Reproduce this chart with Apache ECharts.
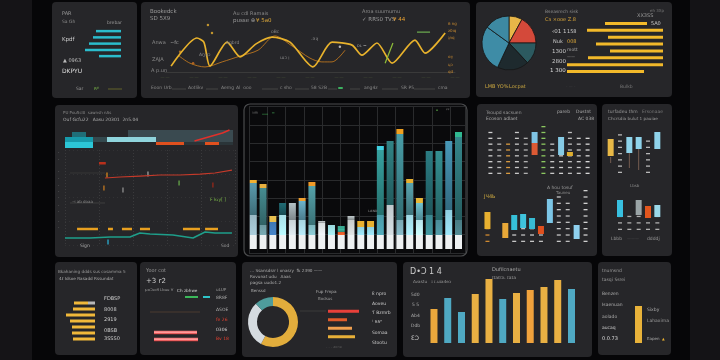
<!DOCTYPE html>
<html>
<head>
<meta charset="utf-8">
<script src="https://cdn.jsdelivr.net/npm/echarts@6.0.0/dist/echarts.min.js"></script>
<style>
html,body{margin:0;padding:0;background:#060608;overflow:hidden;}
#c{width:720px;height:360px;}
</style>
</head>
<body>
<div id="c"></div>
<script>
// ================= DATA =================
// A: top-left cyan bars
const aCats = ['a1','a2','a3','a4','a5'];
const aVals = [25, 28, 32, 36, 22];

// B: top line chart (x: day index 0-100, y: level)
const bMainX = [2.1,11.0,13.4,15.5,21.4,25.9,31.4,36.9,43.1,51.0,57.6,64.5,67.9,73.1,78.3,86.2,89.7,96.6];
const bMainY = [14,81,71,14,71,36,67,83,71,12,71,64,40,69,21,76,45,93];
const bSecX  = [4.5,8.6,13.8,19.7,25.9,32.1,37.9,43.8,50.0,54.1,57.6,62.1];
const bSecY  = [40,21,12,24,38,52,86,62,33,24,24,52];
const bGrnX  = [75.9,78.6];
const bGrnY  = [21,69];
const bGrn2X = [86.9,91.4];
const bGrn2Y = [95,95];
const bDotX  = [14.8,16.2,5.2,9.7,60.3];
const bDotY  = [112,93,48,21,60];

// C: pie + bars
const cPieNames = ['Yellow','Red','Slate','Shade','Teal','Teal B'];
const cPieVals  = [8,17,13,19,28,15];
const cCats = ['c1','c2','c3','c4','c5','c6','c7','c8'];
const cOff  = [16,0,0,0,0,0,0,19];
const cVals = [42,76,55,67,53,75,96,77];

// D: mid-left panel
const dCats = ['d1','d2','d3','d4','d5','d6','d7','d8','d9','d10','d11','d12','d13','d14','d15','d16','d17','d18','d19','d20','d21','d22','d23','d24'];
const dOff = [0,0,0,0,6,6,6,6,6,6,6,6,6,3,3,3,3,3,3,3,3,3,3,3];
const dS1  = [6,6,6,6,0,0,5,5,5,5,5,5,5,3,3,3,3,3,3,3,3,3,3,3];
const dS2  = [5,5,5,5,5,5,0,0,0,7,7,7,7,12,12,12,12,12,12,12,12,12,12,12];
const dS3  = [0,5,5,0,0,0,0,0,0,0,0,0,0,0,0,0,0,0,0,0,0,0,0,0];
const dRed = [null,null,null,null,null,null,null,null,null,null,null,null,null,null,null,null,null,null,7,9,11,13,15,18];
const dRedX = [23.5,32.4,44.1,55.9,67.6,79.4,88.2,98.2];
const dRedY = [70.5,71.6,72.6,73.7,73.7,74.7,75.8,78.9];
const dRed2X = [20,24];
const dRed2Y = [86,86];
const dTealX = [0,14.7,26.5,38.2,44.1,50,63.5,75.3,82.4,88.2,98.2];
const dTealY = [7.4,7.4,8.4,8.4,12.6,11.6,10.5,7.4,13.7,12.6,12.6];
const dOrgSeg = [[7.1,19.4],[25.3,28.2],[33.5,39.4],[44.1,50],[69.4,79.4],[82.4,90]];
const dOrgY = 16.8;
const dMarkX = [24.7,22.9,48.8,34.1,67.1,87,25.3];
const dMarkY = [73.7,60,74.7,57.9,65.3,63.2,3.2];

// E: central stacked bars
const eCats = ['e1','e2','e3','e4','e5','e6','e7','e8','e9','e10','e11','e12','e13','e14','e15','e16','e17','e18','e19','e20','e21','e22'];
const eBaseH = 14;
const eTotal = [69,65,33,46,46,51,67,28,24,23,33,28,28,103,108,120,70,51,98,98,108,117];
const eCap   = [3,4,6,0,0,3,4,0,0,3,0,6,6,4,0,5,4,5,0,0,0,5];
const eLow   = [20,10,13,20,15,15,10,12,10,3,15,8,8,20,30,15,20,15,20,15,25,15];

// F: mid-right panel A
const fCats = ['f1','f2','f3','f4','f5','f6','f7','f8','f9','f10','f11','f12'];
const fTopDash = [41,32,27,41,36,0,47,27,19,42,32,34];
const fTopOff  = [0,0,0,0,0,19,0,0,19,18,0,0];
const fTopS1   = [0,0,0,0,0,12,0,0,18,4,0,0];
const fTopS2   = [0,0,0,0,0,11,0,0,0,0,0,0];
const fBotDash = [9,0,0,12,14,11,8,0,42,39,0,47];
const fBotOff  = [13,0,4,12,14,13,8,19,0,0,3,0];
const fBotS    = [17,0,15,15,14,11,8,24,0,0,14,0];

// G: mid-right panel B
const gCats = ['g1','g2','g3','g4','g5','g6'];
const gTopOff = [17,0,20,24,0,24];
const gTopS   = [17,0,16,12,0,17];
const gTopDash = [0,33,0,0,30,0];
const gWhCat = [0,2,3];
const gWhMid = [13,12.5,13.5];
const gWhLen = [6,15,21];
const gBotOff = [0,13,0,15,12,13];
const gBotS   = [0,17,0,15,12,12];
const gBotDash = [0,12,14,10,11,11];

// H: bottom-left yellow bars
const hCats = ['h1','h2','h3','h4','h5','h6','h7'];
const hGray = [7,0,0,0,0,0,0];
const hVals = [14,22,29,25,23,23,22];

// I: red bars
const iCats = ['i1','i2'];
const iVals = [43,44];
const iLegGap1 = [31], iLegGreen = [13], iLegGap2 = [5], iLegCyan = [7];

// J: donut + bars
const jNames = ['Yellow','Silver','Teal'];
const jVals = [58,30,12];
const jCats = ['j1','j2','j3','j4'];
const jBars = [31,19,24,27];

// K: vertical bars
const kCats = ['k1','k2','k3','k4','k5','k6','k7','k8','k9','k10','k11'];
const kVals = [34,45,31,49,64,44,50,53,56,63,54];

// L: single bar
const lCats = ['l1'];
const lVals = [37];

// ================= STYLES =================
const eLowCol = ['#9ab8c4','#6d9aa2','#3f78b4','#a8e0e8','#c8d2d6','#a6d4e0','#7fb8c0','#d8dcde','#9ad8dc','#e05a28','#c8cccc','#8fd0e0','#8fd0e0','#4a9aa8','#c0c8cc','#7aa8b4','#a0d8e4','#b8e4ec','#3a8890','#4a8c98','#8ecfe0','#4a7c84'];
const eUpCol  = ['#4e8796','#3d7a7e','#3f78b4','#1d5e66','#9ca8ac','#5e9bb0','#4a8d94','#b0b4b6','#8fd0d4','#3aa890','#a8b0b2','#e0c070','#e0c070','#2f8c8a','#2b7274','#3f8890','#4d8f98','#62aab6','#256c72','#2d7c7e','#3f84a0','#2e7478'];
const eCapCol = ['#f0b030','#e8b040','#e8c050','#1d5e66','#999999','#f0a030','#f09a28','#cccccc','#9ad8dc','#3aa890','#cccccc','#e8b030','#e8b030','#40d0e0','#2b7274','#f0a020','#e8b030','#e8b838','#2a6e72','#2d7c7e','#3f84a0','#30b890'];
const dS1Col = ['#2cc6d6','#2cc6d6','#2cc6d6','#2cc6d6','#000','#000','#8fd4dc','#8fd4dc','#8fd4dc','#8fd4dc','#8fd4dc','#8fd4dc','#8fd4dc','#e0501e','#e0501e','#e0501e','#e0501e','#2a3438','#2a3438','#2a3438','#e0501e','#e0501e','#2a3438','#2a3438'];
const dS2Col = ['#179aaa','#179aaa','#179aaa','#179aaa','#34494e','#34494e','#3a4a50','#3a4a50','#3a4a50','#3a4a50','#3a4a50','#3a4a50','#3a4a50','#3a4a50','#3a4a50','#3a4a50','#3a4a50','#3a4a50','#3a4a50','#3a4a50','#3a4a50','#3a4a50','#3a4a50','#3a4a50'];
const fTopDashCol = ['#cfcfcf','#b8b8b8','#d89a40','#c8c8c8','#b0b0b0','#cccccc','#8cc860','#c8c8c8','#d0d0d0','#c0c0c0','#c8c8c8','#d8d8d8'];
const fTopS1Col = ['#000','#000','#000','#000','#000','#dc5a34','#000','#000','#86cbe6','#e0b030','#000','#000'];
const fTopS2Col = ['#000','#000','#000','#000','#000','#7fc4e4','#000','#000','#000','#000','#000','#000'];
const fBotCol = ['#e8b030','#000','#e8a838','#36c0d8','#3fc3dc','#38bcd4','#e0501e','#7cc6e6','#000','#000','#8fd0ee','#000'];
const fBotDashCol = ['#d08a30','#bbb','#bbb','#c8c8c8','#c0c0c0','#c8c8c8','#c0c0c0','#bbb','#c8c8c8','#bdbdbd','#bbb','#d0d0d0'];
const gTopCol = ['#e8b846','#000','#8fd3ea','#8fd3ea','#000','#8fd3ea'];
const gBotCol = ['#000','#38c0e0','#000','#9aa4a6','#e2561e','#9ad8e8'];
const jBarCol = ['#e8403a','#e05a2a','#f0a050','#e8b038'];
const kCol = ['#eaa83c','#4fa9c3','#4fa9c3','#e9b043','#e9b043','#4fa9c3','#e9b043','#f0a23c','#e9b043','#e9b043','#4fa9c3'];

// ================= BUILD =================
const grids = [], xAxes = [], yAxes = [], series = [];
function addGrid(g, xa, ya) {
  grids.push(Object.assign({containLabel:false}, g));
  const i = grids.length - 1;
  xAxes.push(Object.assign({gridIndex:i, show:false}, xa));
  yAxes.push(Object.assign({gridIndex:i, show:false}, ya));
  return i;
}
function colored(vals, cols) { return vals.map((v,i) => ({value:v, itemStyle:{color:cols[i]}})); }
function shade(hex, f) {
  const n = parseInt(hex.slice(1), 16);
  const c = [(n>>16)&255, (n>>8)&255, n&255].map(v => Math.max(0, Math.min(255, Math.round(v*f))));
  return 'rgb(' + c.join(',') + ')';
}
function graded(vals, cols, fTop, fBot) {
  return vals.map((v,i) => ({value:v, itemStyle:{color:new echarts.graphic.LinearGradient(0,0,0,1,[
    {offset:0, color:shade(cols[i], fTop)}, {offset:1, color:shade(cols[i], fBot)}])}}));
}
function zip(xs, ys) { return xs.map((x,i) => [x, ys[i]]); }
function bar(gi, data, opt) { return Object.assign({type:'bar', xAxisIndex:gi, yAxisIndex:gi, data:data, silent:true}, opt); }
function line(gi, data, opt) { return Object.assign({type:'line', xAxisIndex:gi, yAxisIndex:gi, data:data, symbol:'none', silent:true}, opt); }
const TR = {color:'rgba(0,0,0,0)'};

// A
const gA = addGrid({left:80, top:28, width:41, height:31.25},
  {type:'value', inverse:true, min:0, max:41}, {type:'category', data:aCats, inverse:true});
series.push(bar(gA, aVals, {barWidth:2.5, itemStyle:{color:'#2bbccc'}}));

// B
const gB = addGrid({left:165, top:19.5, width:290, height:52.5},
  {type:'value', min:0, max:100, interval:10, show:true, axisLine:{show:true, lineStyle:{color:'#3a3a3a'}}, axisTick:{show:false},
   splitLine:{show:false}, axisLabel:{show:true, color:'#4d5a3c', fontSize:4, margin:3, formatter:function(){return '— —';}}},
  {type:'value', min:0, max:125});
series.push(line(gB, zip(bSecX, bSecY), {smooth:0.3, lineStyle:{color:'#c47a1e', width:1, opacity:0.85}}));
series.push(line(gB, zip(bMainX, bMainY), {smooth:0.25, lineStyle:{color:'#e8b22c', width:1.7}}));
series.push(line(gB, zip(bGrnX, bGrnY), {lineStyle:{color:'#8fbf3a', width:1.2}}));
series.push(line(gB, zip(bGrn2X, bGrn2Y), {lineStyle:{color:'#6aa84f', width:1.2}}));
series.push({type:'scatter', xAxisIndex:gB, yAxisIndex:gB, silent:true, symbolSize:2.5,
  data: zip(bDotX, bDotY).map((p,i)=>({value:p, itemStyle:{color:['#e8b030','#e8b030','#d08020','#d07020','#dddddd'][i]}}))});

// C
series.push({type:'pie', silent:true, center:[509,43], radius:27, startAngle:90, clockwise:true,
  label:{show:false}, labelLine:{show:false},
  itemStyle:{borderColor:'#151515', borderWidth:0.8},
  data: cPieNames.map((n,i)=>({name:n, value:cPieVals[i], itemStyle:{color:['#e8b648','#d4493a','#2c5a60','#1e2a2e','#3e8ca6','#3d89a2'][i]}}))});
const gC = addGrid({left:560, top:20, width:103, height:55},
  {type:'value', inverse:true, min:0, max:103}, {type:'category', data:cCats, inverse:true});
series.push(bar(gC, cOff, {stack:'c', barWidth:3, itemStyle:TR}));
series.push(bar(gC, cVals, {stack:'c', barWidth:3, itemStyle:{color:'#f2b92a'}}));

// D strip
const gD1 = addGrid({left:65, top:129, width:168, height:19},
  {type:'category', data:dCats}, {type:'value', min:0, max:19});
series.push(bar(gD1, dOff, {stack:'d', barCategoryGap:'0%', itemStyle:TR}));
series.push(bar(gD1, colored(dS1, dS1Col), {stack:'d', barCategoryGap:'0%'}));
series.push(bar(gD1, colored(dS2, dS2Col), {stack:'d', barCategoryGap:'0%'}));
series.push(bar(gD1, dS3, {stack:'d', barCategoryGap:'0%', itemStyle:{color:'#1f6e78'}}));
series.push(line(gD1, dRed, {lineStyle:{color:'#e0302a', width:1.5}, z:5}));
// D main
const gD2 = addGrid({left:65, top:150, width:170, height:95},
  {type:'value', min:0, max:100, interval:20, show:true, axisLine:{show:false}, axisTick:{show:false}, axisLabel:{show:false},
   splitLine:{show:true, lineStyle:{color:'#3a3a3c', type:[1,2]}}},
  {type:'value', min:0, max:100, interval:25, show:true, axisLine:{show:false}, axisTick:{show:false}, axisLabel:{show:false},
   splitLine:{show:true, lineStyle:{color:'#323234', type:[1,3]}}});
series.push(line(gD2, zip(dRedX, dRedY), {lineStyle:{color:'#c63a2a', width:1.2}}));
series.push(line(gD2, zip(dRed2X, dRed2Y), {lineStyle:{color:'#b8301c', width:2.5}}));
series.push(line(gD2, zip(dTealX, dTealY), {lineStyle:{color:'#1e9e8a', width:1.5}}));
dOrgSeg.forEach(s => series.push(line(gD2, [[s[0],dOrgY],[s[1],dOrgY]], {lineStyle:{color:'#e8a020', width:2.5}})));
series.push({type:'scatter', xAxisIndex:gD2, yAxisIndex:gD2, silent:true, symbol:'rect', symbolSize:[1.5,5],
  data: zip(dMarkX, dMarkY).map((p,i)=>({value:p, itemStyle:{color:['#e8901c','#d08020','#aaaaaa','#999999','#6ab04c','#a02818','#2ab8e0'][i]}}))});

// E
const gEbg = addGrid({left:249, top:106.6, width:216, height:146.4},
  {type:'value', min:0, max:11.8, interval:1, show:true, axisLine:{show:false}, axisTick:{show:false}, axisLabel:{show:false},
   splitLine:{show:true, lineStyle:{color:'#2a2b2d', width:1}}},
  {type:'value', min:0, max:8, interval:1, show:true, axisLine:{show:false}, axisTick:{show:false}, axisLabel:{show:false},
   splitLine:{show:true, lineStyle:{color:'#2a2b2d', width:1}}});
const gE = addGrid({left:248.4, top:109, width:215, height:140},
  {type:'category', data:eCats}, {type:'value', min:0, max:140});
const eUp = eTotal.map((t,i) => t - eBaseH - eCap[i] - eLow[i]);
series.push(bar(gE, eCats.map(()=>eBaseH), {stack:'e', barWidth:7, itemStyle:{color:'#eef1f2'}}));
series.push(bar(gE, graded(eLow, eLowCol, 1.0, 1.12), {stack:'e', barWidth:7}));
series.push(bar(gE, graded(eUp, eUpCol, 1.15, 0.8), {stack:'e', barWidth:7}));
series.push(bar(gE, colored(eCap, eCapCol), {stack:'e', barWidth:7}));

// F top
const gF1 = addGrid({left:486, top:126, width:106, height:48}, {type:'category', data:fCats}, {type:'value', min:0, max:48});
series.push({type:'pictorialBar', xAxisIndex:gF1, yAxisIndex:gF1, silent:true, data:colored(fTopDash, fTopDashCol),
  symbol:'rect', symbolSize:[4,1.3], symbolRepeat:true, symbolMargin:2.6, barWidth:5, z:2});
series.push(bar(gF1, fTopOff, {stack:'f1', barWidth:6, itemStyle:TR, z:3}));
series.push(bar(gF1, colored(fTopS1, fTopS1Col), {stack:'f1', barWidth:6, z:3}));
series.push(bar(gF1, colored(fTopS2, fTopS2Col), {stack:'f1', barWidth:6, z:3}));
// F bottom
const gF2 = addGrid({left:483, top:190, width:107, height:52}, {type:'category', data:fCats}, {type:'value', min:0, max:52});
series.push({type:'pictorialBar', xAxisIndex:gF2, yAxisIndex:gF2, silent:true, data:colored(fBotDash, fBotDashCol),
  symbol:'rect', symbolSize:[4,1.3], symbolRepeat:true, symbolMargin:2.6, barWidth:5, z:2});
series.push(bar(gF2, fBotOff, {stack:'f2', barWidth:6, itemStyle:TR, z:3}));
series.push(bar(gF2, colored(fBotS, fBotCol), {stack:'f2', barWidth:6, z:3}));

// G top
const gG1 = addGrid({left:606, top:128, width:56, height:45}, {type:'category', data:gCats}, {type:'value', min:0, max:45});
series.push({type:'pictorialBar', xAxisIndex:gG1, yAxisIndex:gG1, silent:true, data:gTopDash,
  itemStyle:{color:'#b8b8b8'}, symbol:'rect', symbolSize:[4,1.3], symbolRepeat:true, symbolMargin:2.6, barWidth:5, z:2});
series.push(bar(gG1, gTopOff, {stack:'g1', barWidth:6, itemStyle:TR, z:3}));
series.push(bar(gG1, colored(gTopS, gTopCol), {stack:'g1', barWidth:6, z:3}));
series.push({type:'scatter', xAxisIndex:gG1, yAxisIndex:gG1, silent:true, symbol:'rect',
  data: gWhCat.map((c,i)=>({value:[c, gWhMid[i]], symbolSize:[1, gWhLen[i]]})), itemStyle:{color:'#8a6a5a'}});
// G bottom
const gG2 = addGrid({left:606, top:190, width:56, height:40}, {type:'category', data:gCats}, {type:'value', min:0, max:40});
series.push({type:'pictorialBar', xAxisIndex:gG2, yAxisIndex:gG2, silent:true, data:gBotDash,
  itemStyle:{color:'#b0b0b0'}, symbol:'rect', symbolSize:[4,1.3], symbolRepeat:true, symbolMargin:2.6, barWidth:5, z:2});
series.push(bar(gG2, gBotOff, {stack:'g2', barWidth:6, itemStyle:TR, z:3}));
series.push(bar(gG2, colored(gBotS, gBotCol), {stack:'g2', barWidth:6, z:3}));

// H
const gH = addGrid({left:62, top:300, width:33, height:42},
  {type:'value', inverse:true, min:0, max:33}, {type:'category', data:hCats, inverse:true});
series.push(bar(gH, hGray, {stack:'h', barWidth:3, itemStyle:{color:'#b8b8b8'}}));
series.push(bar(gH, hVals, {stack:'h', barWidth:3, itemStyle:{color:'#f0b83a'}}));

// I
const gI = addGrid({left:154, top:329, width:46, height:14},
  {type:'value', min:0, max:46}, {type:'category', data:iCats, inverse:true});
series.push(bar(gI, iVals, {barWidth:3.5, itemStyle:{color:new echarts.graphic.LinearGradient(0,0,0,1,[{offset:0,color:'#f07070'},{offset:0.5,color:'#ff9a9a'},{offset:1,color:'#d83030'}])}}));
const gI2 = addGrid({left:154, top:295, width:56, height:4},
  {type:'value', min:0, max:56}, {type:'category', data:['leg']});
series.push(bar(gI2, iLegGap1, {stack:'il', barWidth:2, itemStyle:TR}));
series.push(bar(gI2, iLegGreen, {stack:'il', barWidth:2, itemStyle:{color:'#3bb85a'}}));
series.push(bar(gI2, iLegGap2, {stack:'il', barWidth:2, itemStyle:TR}));
series.push(bar(gI2, iLegCyan, {stack:'il', barWidth:2, itemStyle:{color:'#2ec4c8'}}));

// J
series.push({type:'pie', silent:true, center:[273,322], radius:[16,25], startAngle:90, clockwise:true,
  label:{show:false}, labelLine:{show:false},
  data: jNames.map((n,i)=>({name:n, value:jVals[i], itemStyle:{color:['#e2ad3c','#d5dbe0','#4e9c9c'][i]}}))});
const gJ = addGrid({left:328, top:307, width:35, height:34},
  {type:'value', min:0, max:35}, {type:'category', data:jCats, inverse:true});
series.push(bar(gJ, colored(jBars, jBarCol), {barWidth:3}));

// K
const gK = addGrid({left:427.1, top:273, width:151.25, height:70},
  {type:'category', data:kCats}, {type:'value', min:0, max:70});
series.push(bar(gK, colored(kVals, kCol), {barWidth:7}));

// L
const gL = addGrid({left:635, top:300, width:7, height:43},
  {type:'category', data:lCats}, {type:'value', min:0, max:43});
series.push(bar(gL, lVals, {barWidth:7, itemStyle:{color:'#e8b23a'}}));

// ================= GRAPHIC (panels + text) =================
const G = [];
function R(x,y,w,h,fill,stroke,r) { G.push({type:'rect', z:0, silent:true, shape:{x:x,y:y,width:w,height:h,r:r==null?4:r}, style:{fill:fill, stroke:stroke||null, lineWidth:stroke?1.2:0}}); }
function L(x1,y1,x2,y2,c,w) { G.push({type:'line', z:1, silent:true, shape:{x1:x1,y1:y1,x2:x2,y2:y2}, style:{stroke:c, lineWidth:w||1}}); }
function T(x,y,t,c,s,wt) { G.push({type:'text', z:100, silent:true, x:x, y:y, style:{text:t, fill:c||'#8c8c8c', font:(wt||'normal')+' '+(s||5)+'px "DejaVu Sans"', verticalAlign:'middle'}}); }

R(0,0,32,360,'#151417',null,0);
R(690,0,30,360,'#141316',null,0);
const PF = '#262629';
R(52,2,85,96,PF); R(141,2,329,96,PF); R(476,2,196,95,PF);
R(55,105,183,152,PF); R(244,104,223,152,'#0a0a0c','#4a4b4d',6);
R(477,104,120,152,PF); R(602,104,70,152,PF);
R(55,262,82,93,PF); R(140,262,96,93,PF); R(242,262,155,95,PF); R(403,262,189,95,PF); R(598,262,73,93,PF);

// A texts
T(62,14,'PAR','#9a9a9a',5); T(62,22,'Sa Gh','#888',4.5); T(107,23,'brebar','#999',4.5);
T(62,40,'Kpdf','#cccccc',5.5); T(63,61,'▲ 0963','#bbbbbb',5); T(62,71,'DKPYU','#dddddd',6);
T(76,89,'Sar','#999',4.5); T(94,89,'ʀᵖ','#7ab648',5); L(108,89,122,89,'#5a5a2a',1.2);

// B texts
T(150,12,'Bookedck','#9a9a9a',5.5); T(150,19,'SD 5X9','#9a9a9a',5.5);
T(233,14,'Au cdl Ramais','#8a8a8a',5); T(233,21,'pusse ⊕','#9a9a9a',5.5); T(256,21,'¥ 5a0','#d9a63a',5.5);
T(362,12,'Aroa suumumu','#8a8a8a',5); T(362,20,'✓ RRS0 TVS','#9a9a9a',5.5); T(393,20,'¥ 44','#e8a030',5.5);
T(152,43,'Anwa','#8a8a8a',5); T(152,60,'ZAJA','#8a8a8a',5); T(151,71,'A p.un','#8a8a8a',5);
T(170,43,'~fc','#aaa',5); T(199,55,'Aŋʞɔ','#888',4.5); T(226,43,'Aqbrd','#888',4.5);
T(280,58,'ɯɔ ᴉ','#888',4.5); T(271,32,'oBc','#888',4.5); T(311,39,'.ǝʞ','#888',4.5); T(357,46,'ᴅʟ ━','#999',4.5);
T(448,24,'6 ng','#c88a30',4); T(448,31,'ƨ0ıq','#c88a30',4); T(448,38,'ʇnq','#c88a30',4);
T(448,57,'oıɟ','#c88a30',4); T(448,65,'ɥɔ','#c88a30',4); T(448,72,'qd','#c88a30',4);
T(151,88,'Eoon Urb','#888',4.5); T(188,88,'Aotlikv','#888',4.5); T(221,88,'Aemg','#888',4.5);
T(236,88,'Al  ooo','#888',4.5); T(280,88,'c sho','#888',4.5); T(311,88,'58 S2B','#888',4.5);
T(364,88,'ang4z','#888',4.5); T(401,88,'SR P5','#888',4.5); T(438,88,'cma','#888',4.5);
L(172,89,186,89,'#444',1); L(206,89,218,89,'#444',1); L(262,89,278,89,'#444',1); L(295,89,309,89,'#444',1);
L(328,89,337,89,'#444',1); L(350,89,360,89,'#444',1); L(382,89,398,89,'#444',1); L(414,89,435,89,'#444',1);
R(338,87,5,2,'#3cb060',null,1);

// C texts
T(545,12,'Bseasrech sisk','#8a8a8a',4.5); T(545,20,'Cɜ ×ooe Z.8','#d9a63a',5);
T(637,16,'XX3SS','#999',5); T(650,11,'eh 3Xp','#777',4); T(651,24,'5A0','#cccccc',5);
T(552,32,'‹01 1','#cccccc',5.5); T(567,32,'158','#cccccc',5);
T(553,42,'Nuk','#cccccc',5); T(567,42,'008','#d9a63a',5);
T(552,52,'1300','#cccccc',5.5); T(567,50,'mott','#aaa',4.5); T(567,57,'—— ','#aaa',4);
T(552,62,'2800','#cccccc',5.5); T(550,71,'1 300','#dddddd',5.5);
T(485,87,'LMB','#c9a640',5); T(497,87,'YO%','#c9a640',5); T(509,87,'Locpat','#c9a640',5);
T(566,87,'- — -','#444',4); T(620,87,'Bulkb','#777',4.5);

// D texts
T(63,113,'PU Pou5cl0  sawnsh nAs','#888',4); T(63,120,'Ouf Gcfu22   Aasu 20301  2n5.04','#aaa',4.5);
T(72,202,'⊣ ab doaa','#888',4); T(210,200,'F k₂y[ ]','#7ab648',4.5);
T(80,246,'Sign','#aaa',4.5); T(221,246,'Sod','#999',4.5);
[153,160,172,179,186,192,198,206,212,222,228].forEach(y => T(58,y,'·','#888',5));
L(70,203,105,203,'#444',0.8); L(70,173,105,173,'#3a3a3a',0.8);

// E texts
T(252,114,'ᵃᵈᵇ','#777',5); T(262,114,'ᵤᵤₐ','#3a9a4a',5); T(272,113,'═','#3a8a4a',4);
T(436,110,'▪','#4a8a3a',3); T(446,110,'ᵖᵖ','#888',4); T(368,211,'ʟᴀɴᴅ','#888',4);

// F texts
T(486,113,'Tsoupd sacsuen','#999',4.5); T(486,119,'Ecoson adlaet','#aaa',4.5);
T(557,112,'pareb','#aaa',4.5); T(576,112,'Dustnt','#aaa',4.5); T(578,119,'AC 038','#aaa',4.5);
T(484,197,'ЈЧ4Ь','#c9a640',5); T(547,188,'A hou tosuf','#999',4.5); T(556,193,'Tauneu','#888',4);

// G texts
T(608,112,'turfadeu thm','#999',4.5); T(642,112,'Ersonaae','#777',4.5);
T(608,119,'Chcrsdia bulut 1 pauiae','#999',4.2); T(630,186,'Lbsb','#888',4);
T(611,239,'Lbbb','#999',4.5); T(627,239,'———','#555',4); T(647,239,'ddddj','#999',4.5);

// H texts
T(58,272,'Bkahaning ddds sus cosamma 5','#999',4.2); T(59,279,'4ℓ Idsoe Rasadd Rssundat','#aaa',4.2);
T(104,299,'FDBSP','#cccccc',5); T(104,310,'8008','#cccccc',5); T(104,320,'2919','#cccccc',5);
T(104,331,'0BSB','#cccccc',5); T(104,339,'3SSS0','#cccccc',5);

// I texts
T(146,271,'Yoor cot','#999',5); T(146,281,'+3 r2','#cccccc',7);
T(145,290,'ɟɹoƆɹoƎ Lbuu ∀','#999',3.8); T(177,291,'Ch zbhwe','#cccccc',4.2); T(216,290,'uLUP','#999',4.2);
T(216,298,'8R8F','#aaa',4.5); T(216,310,'ΔSOE','#aaa',4.5); T(216,320,'fe 26','#e04030',4.5);
T(216,330,'0306','#cccccc',4.5); T(216,339,'Bv 18','#e04030',4.5);
L(150,312,200,312,'#4a3a30',1);

// J texts
T(250,271,'… Ssansdsrr l onasry  fk 2390 ——','#aaa',4.2); T(250,277,'Rovunat udu   Aaas','#aaa',4.2);
T(250,283,'pagsa uudo1.2','#aaa',4.2); T(251,291,'Benssd','#aaa',4);
T(316,292,'Fup Fmpa','#aaa',4.2); T(318,299,'Bodsus','#999',4);
T(372,294,'ƙ npro','#cccccc',4.5); T(372,304,'Aoveu','#cccccc',4.5); T(372,313,'Ƭ Bzmrb','#cccccc',4.5);
T(372,322,'ᵗ ʀʀᵉ','#cccccc',4.5); T(372,333,'Somaa','#cccccc',4.5); T(372,343,'Stootu','#cccccc',4.5);
T(326,347,'- - - aone','#555',3.5); L(300,311,326,311,'#3a3a3a',1);

// K texts
T(410,272,'D•Ɔ 1 4','#cccccc',8); T(413,282,'Avastu   ɪ ɪ.uɪa4ɵɔ','#999',4.2);
T(492,270,'Dufilcnaetu','#aaa',5); T(492,278,'ɪɪaʊɔʟ ɪaɪa','#999',4.5);
T(411,295,'5d0','#aaa',4.5); T(412,305,'5 5','#aaa',4.5); T(411,316,'Ab4','#aaa',4.5);
T(411,326,'Ddb','#aaa',4.5); T(411,338,'ƐƆ','#cccccc',6);

// L texts
T(602,271,'tnumsnd','#999',4.5); T(602,280,'tasqi Ssrei','#999',4.5);
T(602,294,'Benzen','#aaa',4.5); T(602,305,'Isaenuan','#aaa',4.5); T(602,317,'aolado','#aaa',4.5);
T(602,328,'aucaq','#cccccc',4.5); T(602,339,'0.0.73','#dddddd',5);
T(647,310,'Sixby','#aaa',4.5); T(647,321,'Lahaxima','#999',4.5); T(647,339,'Eapen','#aaa',4); T(662,339,'▲','#e8b030',3.5);

const chart = echarts.init(document.getElementById('c'), null, {renderer:'canvas', width:720, height:360});
chart.setOption({
  backgroundColor:'#060608',
  animation:false,
  grid:grids, xAxis:xAxes, yAxis:yAxes, series:series, graphic:G
});
</script>
</body>
</html>
